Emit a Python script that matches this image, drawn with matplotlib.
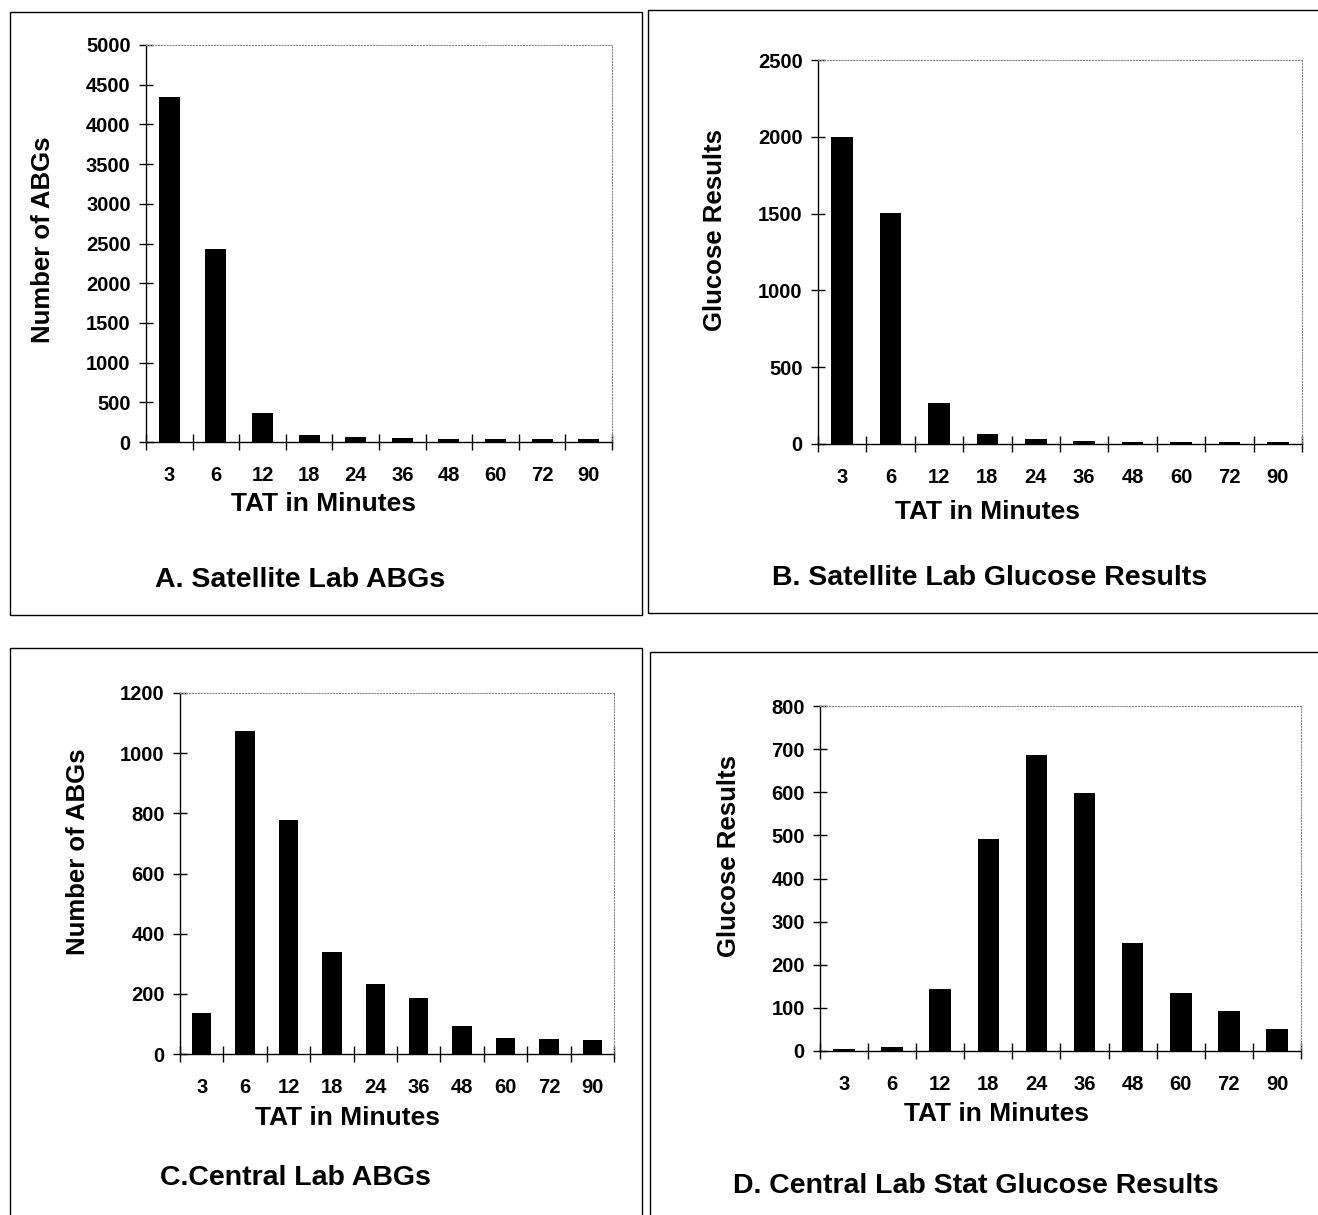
import matplotlib.pyplot as plt
from matplotlib.patches import Rectangle

plt.rcParams['font.family'] = ['Liberation Sans', 'DejaVu Sans']
plt.rcParams['font.weight'] = 'bold'

W, H = 1318, 1215

# categories (TAT in minutes)
tat = ['3', '6', '12', '18', '24', '36', '48', '60', '72', '90']

# values
sat_abg = [4350, 2430, 365, 84, 66, 50, 34, 34, 34, 34]
sat_glu = [2000, 1505, 267, 67, 30, 20, 15, 15, 15, 11]
cen_abg = [137, 1075, 778, 340, 232, 185, 92, 53, 49, 47]
cen_glu = [4, 10, 143, 491, 686, 598, 250, 134, 93, 51]

panels = [
    # values, ylabel, title, ymax, ystep, axes box (px: l, r, t, b), frame box, title pos,
    # xlabel (x frac, pad), ylabel y frac
    (sat_abg, 'Number of ABGs', 'A. Satellite Lab ABGs', 5000, 500,
     (146, 612, 45, 442), (10, 642, 12, 615), (300, 580), (0.38, 5), 0.51),
    (sat_glu, 'Glucose Results', 'B. Satellite Lab Glucose Results', 2500, 500,
     (818, 1302, 60, 444), (648, 1320, 10, 613), (990, 578), (0.35, 10), 0.557),
    (cen_abg, 'Number of ABGs', 'C.Central Lab ABGs', 1200, 200,
     (180, 614, 693, 1054), (10, 642, 648, 1218), (295, 1178), (0.387, 7), 0.56),
    (cen_glu, 'Glucose Results', 'D. Central Lab Stat Glucose Results', 800, 100,
     (820, 1301, 706, 1051), (650, 1320, 652, 1218), (976, 1186), (0.366, 6), 0.565),
]

fig = plt.figure(figsize=(W / 100, H / 100), dpi=100)

for vals, ylab, title, ymax, ystep, box, frame, tpos, xl, yly in panels:
    l, r, t, b = box
    ax = fig.add_axes([l / W, 1 - b / H, (r - l) / W, (b - t) / H])
    x = list(range(len(tat)))
    ax.bar(x, vals, width=0.45, color='black')
    ax.set_xlim(-0.5, len(tat) - 0.5)
    ax.set_ylim(0, ymax)
    ax.set_yticks(range(0, ymax + 1, ystep))
    ax.set_xticks([i - 0.5 for i in range(len(tat) + 1)])
    ax.set_xticklabels([])
    ax.set_xticks(x, minor=True)
    ax.set_xticklabels(tat, minor=True)
    ax.tick_params(axis='x', which='major', direction='inout', length=12, width=1)
    ax.tick_params(axis='x', which='minor', length=0, pad=17, labelsize=14.5)
    ax.tick_params(axis='y', direction='inout', length=10, width=1, labelsize=14.5, pad=6)
    for s in ['top', 'right']:
        ax.spines[s].set_color('#888888')
        ax.spines[s].set_linestyle(':')
    ax.spines['left'].set_linewidth(1)
    ax.spines['bottom'].set_linewidth(1)
    ax.set_xlabel('TAT in Minutes', fontsize=19, fontweight='bold', labelpad=xl[1])
    ax.xaxis.label.set_x(xl[0])
    ax.set_ylabel(ylab, fontsize=18.5, fontweight='bold', labelpad=22)
    ax.yaxis.label.set_y(yly)
    for lab in ax.get_yticklabels() + ax.get_xticklabels(minor=True):
        lab.set_fontweight('bold')

    fl, fr, ft, fb = frame
    fig.add_artist(Rectangle((fl / W, 1 - fb / H), (fr - fl) / W, (fb - ft) / H,
                             transform=fig.transFigure, fill=False,
                             edgecolor='black', linewidth=1))
    fig.text(tpos[0] / W, 1 - tpos[1] / H, title, ha='center', va='center',
             fontsize=20.5, fontweight='bold')

fig.savefig('out.png', dpi=100)
